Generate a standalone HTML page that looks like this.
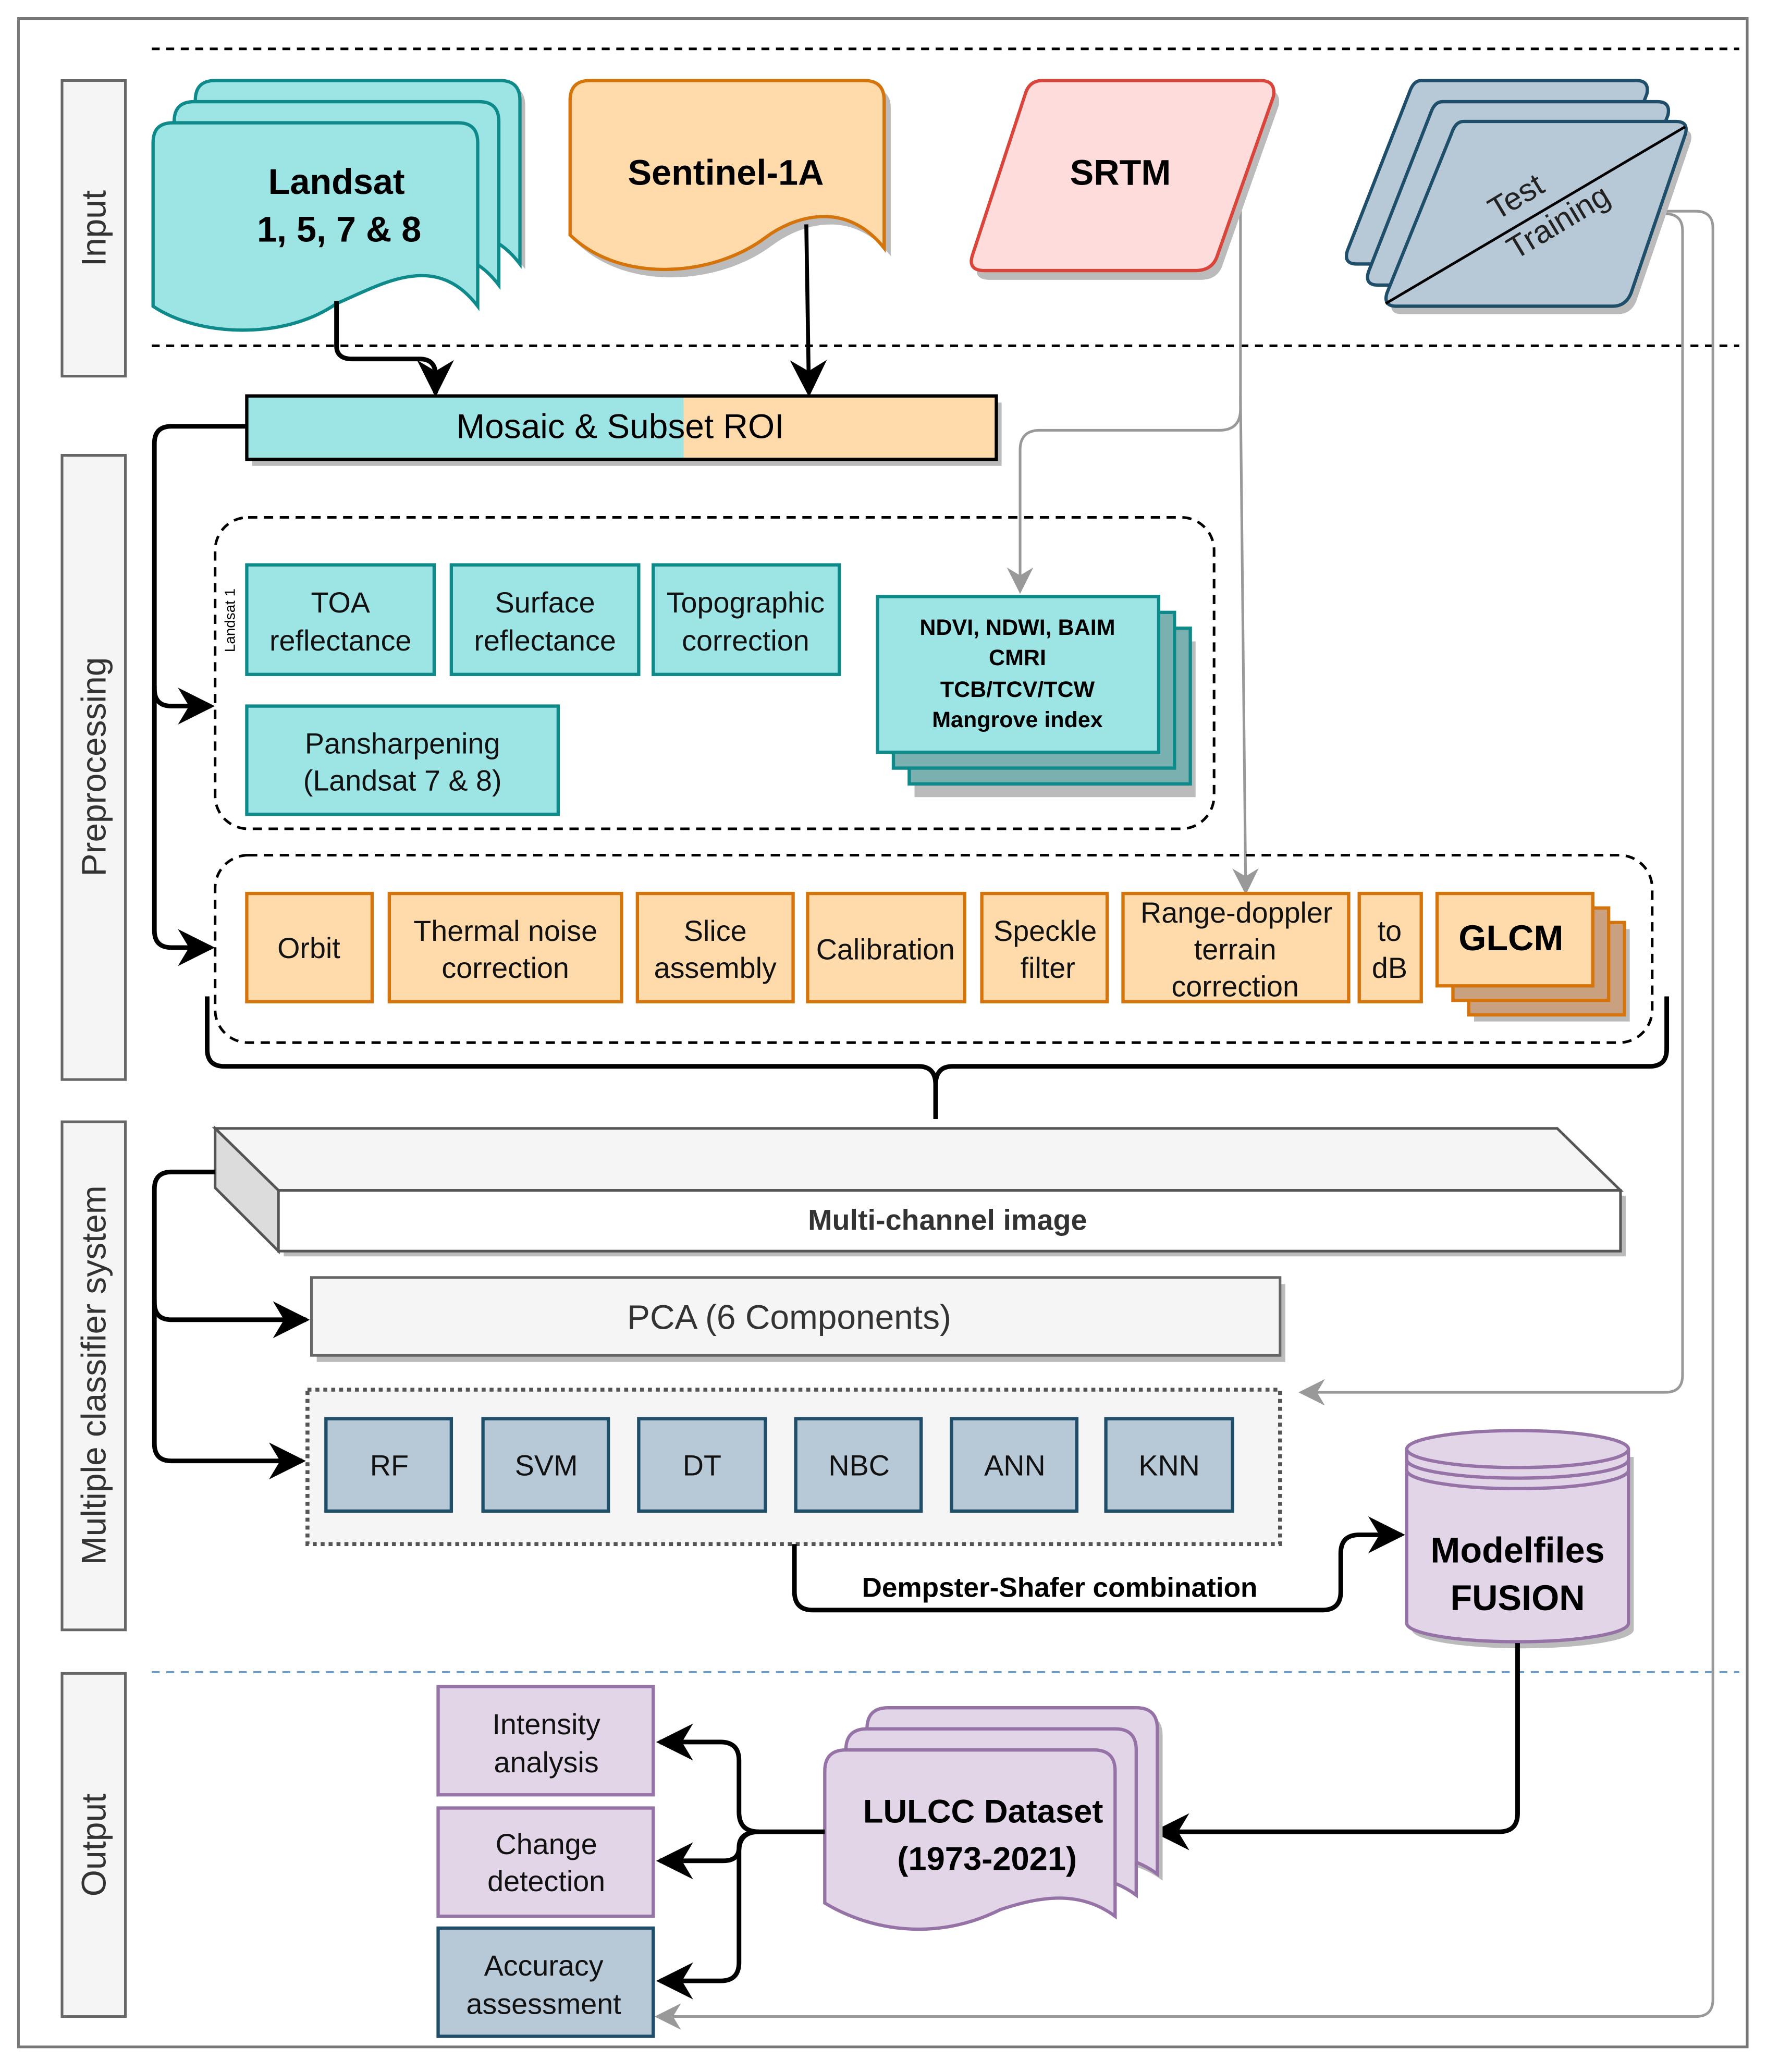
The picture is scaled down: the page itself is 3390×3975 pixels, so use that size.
<!DOCTYPE html>
<html><head><meta charset="utf-8"><style>html,body{margin:0;padding:0;background:#fff}svg{display:block}text{font-family:"Liberation Sans",Arial,sans-serif}</style></head>
<body>
<svg width="3390" height="3975" viewBox="0 0 1339 1570" xmlns="http://www.w3.org/2000/svg">
<defs>
<marker id="ab" markerWidth="10" markerHeight="10" refX="9" refY="5" orient="auto" markerUnits="userSpaceOnUse" viewBox="0 0 10 10"><path d="M0,0 L10,5 L0,10 L3,5 Z" fill="#000"/></marker>
<marker id="abig" viewBox="0 0 10 10" refX="9" refY="5" markerWidth="28" markerHeight="28" orient="auto" markerUnits="userSpaceOnUse"><path d="M0,0 L10,5 L0,10 L3,5 Z" fill="#000"/></marker>
<marker id="ag" viewBox="0 0 10 10" refX="9" refY="5" markerWidth="20" markerHeight="20" orient="auto" markerUnits="userSpaceOnUse"><path d="M0,0 L10,5 L0,10 L3,5 Z" fill="#999"/></marker>
</defs>
<rect width="1339" height="1570" fill="#fff"/>
<rect x="14" y="14" width="1310" height="1537" fill="none" stroke="#777" stroke-width="2"/>
<!-- dashed separators -->
<line x1="115" y1="37" x2="1318" y2="37" stroke="#000" stroke-width="2" stroke-dasharray="6,5"/>
<line x1="115" y1="262" x2="1318" y2="262" stroke="#000" stroke-width="2" stroke-dasharray="6,5"/>
<line x1="115" y1="1267" x2="1318" y2="1267" stroke="#6c9ac6" stroke-width="1.5" stroke-dasharray="6,5"/>
<!-- side labels -->
<g fill="#f5f5f5" stroke="#666" stroke-width="2">
<rect x="47" y="61" width="48" height="224"/>
<rect x="47" y="345" width="48" height="473"/>
<rect x="47" y="850" width="48" height="385"/>
<rect x="47" y="1268" width="48" height="260"/>
</g>
<g font-size="26" fill="#333" text-anchor="middle">
<text transform="translate(80,173) rotate(-90)">Input</text>
<text transform="translate(80,581) rotate(-90)">Preprocessing</text>
<text transform="translate(80,1042) rotate(-90)">Multiple classifier system</text>
<text transform="translate(80,1398) rotate(-90)">Output</text>
</g>
<!-- gray lines -->
<g fill="none" stroke="#999" stroke-width="2">
<path d="M940,140 L940,310 Q940,326 924,326 L788,326 Q773,326 773,341 L773,448" marker-end="url(#ag)"/>
<path d="M940,300 L944,676" marker-end="url(#ag)"/>
<path d="M1255,160 L1285,160 Q1298,160 1298,173 L1298,1515 Q1298,1528 1285,1528 L498,1528" marker-end="url(#ag)"/>
<path d="M1262,162 Q1275,162 1275,175 L1275,1042 Q1275,1055 1262,1055 L986,1055" marker-end="url(#ag)"/>
</g>
<!-- Landsat docs -->
<g stroke="#0e8a8a" stroke-width="2.5" fill="#9de5e5">
<path d="M148,76 Q148,61 163,61 L379,61 Q394,61 394,76 L394,200 C362,158 322,183 287,198 C247,226 182,223 148,200 Z" transform="translate(4,4)" fill="#bbb" stroke="none"/>
<path d="M148,76 Q148,61 163,61 L379,61 Q394,61 394,76 L394,200 C362,158 322,183 287,198 C247,226 182,223 148,200 Z"/>
<path d="M132,92 Q132,77 147,77 L363,77 Q378,77 378,92 L378,216 C346,174 306,199 271,214 C231,242 166,239 132,216 Z"/>
<path d="M116,108 Q116,93 131,93 L347,93 Q362,93 362,108 L362,232 C330,190 290,215 255,230 C215,258 150,255 116,232 Z"/>
</g>
<text x="255" y="147" font-size="27" font-weight="bold" text-anchor="middle">Landsat</text>
<text x="257" y="183" font-size="27" font-weight="bold" text-anchor="middle">1, 5, 7 &amp; 8</text>
<!-- Sentinel -->
<path d="M432,76 Q432,61 447,61 L655,61 Q670,61 670,76 L670,188 C640,150 600,165 580,180 C540,210 470,215 432,178 Z" transform="translate(5,6)" fill="#bbb"/>
<path d="M432,76 Q432,61 447,61 L655,61 Q670,61 670,76 L670,188 C640,150 600,165 580,180 C540,210 470,215 432,178 Z" fill="#ffdaab" stroke="#d4740a" stroke-width="2.5"/>
<text x="550" y="140" font-size="27" font-weight="bold" text-anchor="middle">Sentinel-1A</text>
<!-- SRTM -->
<path d="M790,61 L955,61 Q967,61 965,73 L922,195 Q918,205 906,205 L746,205 Q733,205 737,193 L777,71 Q780,61 790,61 Z" transform="translate(4,7)" fill="#bbb"/>
<path d="M790,61 L955,61 Q967,61 965,73 L922,195 Q918,205 906,205 L746,205 Q733,205 737,193 L777,71 Q780,61 790,61 Z" fill="#ffdcdc" stroke="#d9453a" stroke-width="2.5"/>
<text x="849" y="140" font-size="27" font-weight="bold" text-anchor="middle">SRTM</text>
<!-- Test/Training -->
<g fill="#b7c9d6" stroke="#1f4e6b" stroke-width="2.5">
<path d="M1077,61 L1240,61 Q1250,61 1248,71 L1202,191 Q1199,200 1189,200 L1028,200 Q1018,200 1021,190 L1068,70 Q1071,61 1077,61 Z"/>
<path d="M1093,77 L1256,77 Q1266,77 1264,87 L1218,207 Q1215,216 1205,216 L1044,216 Q1034,216 1037,206 L1084,86 Q1087,77 1093,77 Z"/>
<path d="M1109,92 L1270,92 Q1280,92 1277,102 L1236,222 Q1232,232 1222,232 L1058,232 Q1048,232 1051,222 L1100,101 Q1103,92 1109,92 Z" transform="translate(4,6)" fill="#bbb" stroke="none"/>
<path d="M1109,92 L1270,92 Q1280,92 1277,102 L1236,222 Q1232,232 1222,232 L1058,232 Q1048,232 1051,222 L1100,101 Q1103,92 1109,92 Z"/>
</g>
<line x1="1050" y1="230" x2="1277" y2="96" stroke="#000" stroke-width="2"/>
<text transform="translate(1153,156) rotate(-31)" font-size="24" text-anchor="middle" fill="#222">Test</text>
<text transform="translate(1185,175) rotate(-31)" font-size="24" text-anchor="middle" fill="#222">Training</text>
<!-- input arrows -->
<path d="M255,228 L255,262 Q255,272 267,272 L318,272 Q330,272 330,284 L330,298" fill="none" stroke="#000" stroke-width="3.5" marker-end="url(#abig)"/>
<path d="M611,170 L613,298" fill="none" stroke="#000" stroke-width="3" marker-end="url(#abig)"/>
<!-- Mosaic -->
<rect x="191" y="305" width="568" height="48" fill="#bbb"/>
<rect x="187" y="300" width="331" height="48" fill="#9de5e5"/>
<rect x="518" y="300" width="237" height="48" fill="#ffdaab"/>
<rect x="187" y="300" width="568" height="48" fill="none" stroke="#000" stroke-width="2.5"/>
<text x="470" y="332" font-size="26" text-anchor="middle">Mosaic &amp; Subset ROI</text>
<!-- left bracket arrows -->
<path d="M187,323 L130,323 Q117,323 117,336 L117,522 Q117,535 130,535 L160,535" fill="none" stroke="#000" stroke-width="3.5" marker-end="url(#abig)"/>
<path d="M117,520 L117,705 Q117,718 130,718 L160,718" fill="none" stroke="#000" stroke-width="3.5" marker-end="url(#abig)"/>
<!-- Landsat dashed group -->
<rect x="163" y="392" width="757" height="236" rx="25" fill="none" stroke="#000" stroke-width="2" stroke-dasharray="7,5"/>
<text transform="translate(178,470) rotate(-90)" font-size="11" text-anchor="middle">Landsat 1</text>
<g fill="#9de5e5" stroke="#0e8a8a" stroke-width="2.5">
<rect x="187" y="428" width="142" height="83"/>
<rect x="342" y="428" width="142" height="83"/>
<rect x="495" y="428" width="141" height="83"/>
<rect x="187" y="535" width="236" height="82"/>
<rect x="693" y="486" width="213" height="118" fill="#bbb" stroke="none"/>
<rect x="689" y="476" width="213" height="118" fill="#7ab0b0"/>
<rect x="677" y="464" width="213" height="118" fill="#7ab0b0"/>
<rect x="665" y="452" width="213" height="118"/>
</g>
<g font-size="22" text-anchor="middle" fill="#111">
<text x="258" y="464">TOA</text><text x="258" y="493">reflectance</text>
<text x="413" y="464">Surface</text><text x="413" y="493">reflectance</text>
<text x="565" y="464">Topographic</text><text x="565" y="493">correction</text>
<text x="305" y="571">Pansharpening</text><text x="305" y="599">(Landsat 7 &amp; 8)</text>
</g>
<g font-size="17" font-weight="bold" text-anchor="middle">
<text x="771" y="481">NDVI, NDWI, BAIM</text>
<text x="771" y="504">CMRI</text>
<text x="771" y="528">TCB/TCV/TCW</text>
<text x="771" y="551">Mangrove index</text>
</g>
<!-- Sentinel dashed group -->
<rect x="163" y="648" width="1089" height="142" rx="25" fill="none" stroke="#000" stroke-width="2" stroke-dasharray="7,5"/>
<g fill="#ffdaab" stroke="#d4740a" stroke-width="2.5">
<rect x="187" y="677" width="95" height="82"/>
<rect x="295" y="677" width="176" height="82"/>
<rect x="483" y="677" width="118" height="82"/>
<rect x="612" y="677" width="119" height="82"/>
<rect x="744" y="677" width="95" height="82"/>
<rect x="851" y="677" width="171" height="82"/>
<rect x="1030" y="677" width="47" height="82"/>
<rect x="1117" y="704" width="118" height="70" fill="#bbb" stroke="none"/>
<rect x="1113" y="699" width="118" height="70" fill="#c9a180"/>
<rect x="1101" y="688" width="118" height="70" fill="#c9a180"/>
<rect x="1089" y="677" width="118" height="70"/>
</g>
<g font-size="22" text-anchor="middle" fill="#111">
<text x="234" y="726">Orbit</text>
<text x="383" y="713">Thermal noise</text><text x="383" y="741">correction</text>
<text x="542" y="713">Slice</text><text x="542" y="741">assembly</text>
<text x="671" y="727">Calibration</text>
<text x="792" y="713">Speckle</text><text x="794" y="741">filter</text>
<text x="937" y="699">Range-doppler</text><text x="936" y="727">terrain</text><text x="936" y="755">correction</text>
<text x="1053" y="713">to</text><text x="1053" y="741">dB</text>
</g>
<text x="1145" y="720" font-size="27" font-weight="bold" text-anchor="middle">GLCM</text>
<!-- brace -->
<path d="M157,755 L157,795 Q157,808 170,808 L696,808 Q709,808 709,822 L709,848 M709,822 Q709,808 722,808 L1250,808 Q1263,808 1263,795 L1263,755" fill="none" stroke="#000" stroke-width="3.5"/>
<!-- Multi-channel -->
<g stroke="#555" stroke-width="2">
<polygon points="215,906 1232,906 1232,952 215,952" fill="#bbb" stroke="none"/>
<polygon points="163,855 1180,855 1228,902 211,902" fill="#f5f5f5"/>
<polygon points="163,855 211,902 211,948 163,900" fill="#dcdcdc"/>
<rect x="211" y="902" width="1017" height="46" fill="#fff"/>
</g>
<text x="718" y="932" font-size="22" font-weight="bold" text-anchor="middle" fill="#333">Multi-channel image</text>
<path d="M163,888 L130,888 Q117,888 117,901 L117,987 Q117,1000 130,1000 L232,1000" fill="none" stroke="#000" stroke-width="3.5" marker-end="url(#abig)"/>
<path d="M117,985 L117,1094 Q117,1107 130,1107 L229,1107" fill="none" stroke="#000" stroke-width="3.5" marker-end="url(#abig)"/>
<!-- PCA -->
<rect x="240" y="973" width="734" height="59" fill="#bbb"/>
<rect x="236" y="968" width="734" height="59" fill="#f5f5f5" stroke="#666" stroke-width="2"/>
<text x="598" y="1007" font-size="26" text-anchor="middle" fill="#333">PCA (6 Components)</text>
<!-- classifiers -->
<rect x="233" y="1053" width="737" height="117" fill="#f5f5f5" stroke="#555" stroke-width="3" stroke-dasharray="3,3"/>
<g fill="#b7c9d6" stroke="#1f4e6b" stroke-width="2.5">
<rect x="247" y="1075" width="95" height="70"/>
<rect x="366" y="1075" width="95" height="70"/>
<rect x="484" y="1075" width="96" height="70"/>
<rect x="603" y="1075" width="95" height="70"/>
<rect x="721" y="1075" width="95" height="70"/>
<rect x="838" y="1075" width="96" height="70"/>
</g>
<g font-size="22" text-anchor="middle" fill="#111">
<text x="295" y="1118">RF</text><text x="414" y="1118">SVM</text><text x="532" y="1118">DT</text>
<text x="651" y="1118">NBC</text><text x="769" y="1118">ANN</text><text x="886" y="1118">KNN</text>
</g>
<path d="M602,1170 L602,1206 Q602,1220 616,1220 L1002,1220 Q1016,1220 1016,1206 L1016,1177 Q1016,1163 1030,1163 L1062,1163" fill="none" stroke="#000" stroke-width="3.5" marker-end="url(#abig)"/>
<text x="803" y="1210" font-size="21" font-weight="bold" text-anchor="middle">Dempster-Shafer combination</text>
<!-- cylinder -->
<path d="M1070,1104 L1070,1235 A84,14 0 0 0 1238,1235 L1238,1104 Z" fill="#bbb"/>
<path d="M1066,1098 L1066,1230 A84,14 0 0 0 1234,1230 L1234,1098 A84,14 0 0 0 1066,1098 Z" fill="#e1d5e7" stroke="#9673a6" stroke-width="2.5"/>
<path d="M1066,1098 A84,14 0 0 0 1234,1098 M1066,1106 A84,14 0 0 0 1234,1106 M1066,1114 A84,14 0 0 0 1234,1114" fill="none" stroke="#9673a6" stroke-width="2.5"/>
<text x="1150" y="1184" font-size="27" font-weight="bold" text-anchor="middle">Modelfiles</text>
<text x="1150" y="1220" font-size="27" font-weight="bold" text-anchor="middle">FUSION</text>
<!-- output -->
<path d="M1150,1245 L1150,1374 Q1150,1388 1136,1388 L876,1388" fill="none" stroke="#000" stroke-width="3.5" marker-end="url(#abig)"/>
<g stroke="#9673a6" stroke-width="2.5" fill="#e1d5e7">
<path d="M657,1310 Q657,1294 673,1294 L861,1294 Q877,1294 877,1310 L877,1420 C850,1400 820,1405 790,1415 C740,1440 690,1420 657,1410 Z" transform="translate(4,5)" fill="#bbb" stroke="none"/>
<path d="M657,1310 Q657,1294 673,1294 L861,1294 Q877,1294 877,1310 L877,1420 C850,1400 820,1405 790,1415 C740,1440 690,1420 657,1410 Z"/>
<path d="M641,1326 Q641,1310 657,1310 L845,1310 Q861,1310 861,1326 L861,1436 C834,1416 804,1421 774,1431 C724,1456 674,1436 641,1426 Z"/>
<path d="M625,1342 Q625,1326 641,1326 L829,1326 Q845,1326 845,1342 L845,1452 C818,1432 788,1437 758,1447 C708,1472 658,1462 625,1442 Z"/>
</g>
<text x="745" y="1381" font-size="25" font-weight="bold" text-anchor="middle">LULCC Dataset</text>
<text x="748" y="1417" font-size="25" font-weight="bold" text-anchor="middle">(1973-2021)</text>
<g fill="none" stroke="#000" stroke-width="3.5">
<path d="M625,1388 L575,1388 Q560,1388 560,1373 L560,1334 Q560,1320 546,1320 L500,1320" marker-end="url(#abig)"/>
<path d="M575,1388 Q560,1388 560,1400 Q560,1410 548,1410 L500,1410" marker-end="url(#abig)"/>
<path d="M575,1388 Q560,1388 560,1403 L560,1487 Q560,1501 546,1501 L500,1501" marker-end="url(#abig)"/>
</g>
<g stroke-width="2.5">
<rect x="332" y="1278" width="163" height="82" fill="#e1d5e7" stroke="#9673a6"/>
<rect x="332" y="1370" width="163" height="82" fill="#e1d5e7" stroke="#9673a6"/>
<rect x="332" y="1461" width="163" height="82" fill="#b7c9d6" stroke="#1f4e6b"/>
</g>
<g font-size="22" text-anchor="middle" fill="#111">
<text x="414" y="1314">Intensity</text><text x="414" y="1343">analysis</text>
<text x="414" y="1405">Change</text><text x="414" y="1433">detection</text>
<text x="412" y="1497">Accuracy</text><text x="412" y="1526">assessment</text>
</g>
</svg>
</body></html>
